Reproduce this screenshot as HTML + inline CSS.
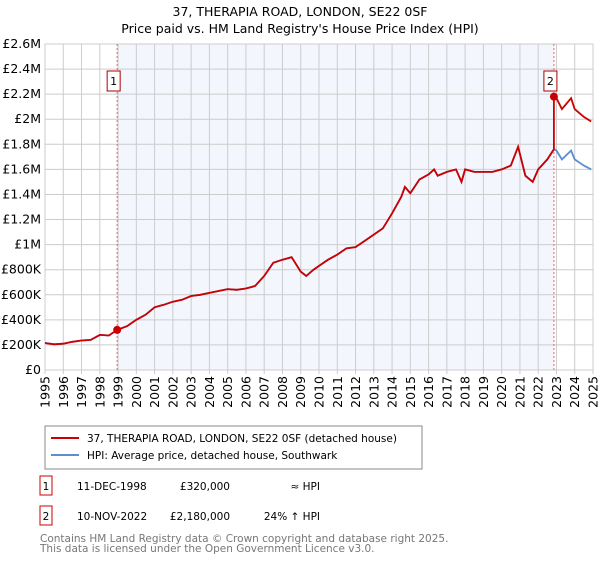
<!DOCTYPE html>
<html><head><meta charset="utf-8"><style>
body{margin:0;background:#fff;font-family:"Liberation Sans","DejaVu Sans",sans-serif;}
svg text{font-family:"DejaVu Sans","Liberation Sans",sans-serif;}
</style></head><body>
<svg id="c" width="600" height="560" xmlns="http://www.w3.org/2000/svg">
<text x="300" y="16" text-anchor="middle" font-size="12.5">37, THERAPIA ROAD, LONDON, SE22 0SF</text>
<text x="300" y="33" text-anchor="middle" font-size="12.5">Price paid vs. HM Land Registry's House Price Index (HPI)</text>
<g id="plot"></g>
<rect x="45" y="426" width="377" height="43" fill="#fff" stroke="#888"/>
<line x1="51" y1="438" x2="79" y2="438" stroke="#cc0000" stroke-width="2"/>
<text x="87" y="442" font-size="10.5">37, THERAPIA ROAD, LONDON, SE22 0SF (detached house)</text>
<line x1="51" y1="455" x2="79" y2="455" stroke="#5b8fd0" stroke-width="2"/>
<text x="87" y="459" font-size="10.5">HPI: Average price, detached house, Southwark</text>
<g font-size="10.5">
<rect x="40" y="476" width="12" height="19" fill="#fff" stroke="#cc0000"/>
<text x="46" y="490" text-anchor="middle">1</text>
<text x="77" y="490">11-DEC-1998</text><text x="230" y="490" text-anchor="end">£320,000</text><text x="320" y="490" text-anchor="end">≈ HPI</text>
<rect x="40" y="506" width="12" height="19" fill="#fff" stroke="#cc0000"/>
<text x="46" y="520" text-anchor="middle">2</text>
<text x="77" y="520">10-NOV-2022</text><text x="230" y="520" text-anchor="end">£2,180,000</text><text x="320" y="520" text-anchor="end">24% ↑ HPI</text>
</g>
<text x="40" y="542" font-size="10.5" fill="#777">Contains HM Land Registry data © Crown copyright and database right 2025.</text>
<text x="40" y="552" font-size="10.5" fill="#777">This data is licensed under the Open Government Licence v3.0.</text>
</svg>
<script>
const hpiYears=[1995,1995.5,1996,1996.5,1997,1997.5,1998,1998.5,1998.95,1999.5,2000,2000.5,2001,2001.5,2002,2002.5,2003,2003.5,2004,2004.5,2005,2005.5,2006,2006.5,2007,2007.5,2008,2008.5,2009,2009.3,2009.7,2010,2010.5,2011,2011.5,2012,2012.5,2013,2013.5,2014,2014.5,2014.7,2015,2015.5,2016,2016.3,2016.5,2017,2017.5,2017.8,2018,2018.5,2019,2019.5,2020,2020.5,2020.9,2021.3,2021.7,2022,2022.5,2022.86,2023,2023.3,2023.8,2024,2024.5,2024.9];
const hpiValues=[215000,205000,210000,225000,235000,240000,280000,275000,320000,350000,400000,440000,500000,520000,545000,560000,590000,600000,615000,630000,645000,640000,650000,670000,750000,855000,880000,900000,785000,750000,800000,830000,880000,920000,970000,980000,1030000,1080000,1130000,1250000,1380000,1460000,1410000,1520000,1560000,1600000,1550000,1580000,1600000,1500000,1600000,1580000,1580000,1580000,1600000,1630000,1780000,1550000,1500000,1600000,1680000,1760000,1750000,1680000,1750000,1680000,1630000,1600000];
const saleYears=[1998.95,2022.86];
const salePrices=[320000,2180000];
const saleLabels=["1","2"];
const yTicks=[0,200000,400000,600000,800000,1000000,1200000,1400000,1600000,1800000,2000000,2200000,2400000,2600000];
const yTickLabels=["£0","£200K","£400K","£600K","£800K","£1M","£1.2M","£1.4M","£1.6M","£1.8M","£2M","£2.2M","£2.4M","£2.6M"];
const xTicks=[1995,1996,1997,1998,1999,2000,2001,2002,2003,2004,2005,2006,2007,2008,2009,2010,2011,2012,2013,2014,2015,2016,2017,2018,2019,2020,2021,2022,2023,2024,2025];
const L=45,R=593,T=44,B=370;
const x=y=>L+(y-1995)/30*(R-L);
const yv=v=>B-v/2600000*(B-T);
const NS="http://www.w3.org/2000/svg";
const g=document.getElementById('plot');
function mk(t,a,p){const e=document.createElementNS(NS,t);for(const k in a)e.setAttribute(k,a[k]);(p||g).appendChild(e);return e;}
const shade=mk('rect',{x:x(saleYears[0]),y:T,width:x(saleYears[1])-x(saleYears[0]),height:B-T,fill:'#f3f6fd'});


yTicks.forEach((v,i)=>{
 const l=mk('line',{x1:L,x2:R,y1:yv(v),y2:yv(v),stroke:'#ccc'});
 
 
 const t=mk('text',{x:L-4,y:yv(v)+4,'text-anchor':'end','font-size':'12.5'});t.textContent=yTickLabels[i];
 
 
});
xTicks.forEach(yr=>{
 const l=mk('line',{x1:x(yr),x2:x(yr),y1:T,y2:B+4,stroke:'#ccc'});
 
 
 const t=mk('text',{x:0,y:0,'text-anchor':'end','font-size':'12.5',transform:`translate(${x(yr)+4.5},${B+6}) rotate(-90)`});t.textContent=yr;
 
 
});
const ax=mk('rect',{x:L,y:T,width:R-L,height:B-T,fill:'none',stroke:'#ccc'});


saleYears.forEach((sy,i)=>{
 const l=mk('line',{x1:x(sy),x2:x(sy),y1:T,y2:B,stroke:'#e66','stroke-dasharray':'2,2'});
 
 
});
const hp=hpiYears.map((yr,i)=>x(yr).toFixed(1)+','+yv(hpiValues[i]).toFixed(1)).join(' ');
const hl=mk('polyline',{points:hp,fill:'none',stroke:'#5b8fd0','stroke-width':1.8});


const pts=[];
const i2=hpiYears.findIndex(v=>v>=saleYears[1]);
const ratio=salePrices[1]/hpiValues[i2];
hpiYears.forEach((yr,i)=>{
 if(yr<saleYears[1]) pts.push([yr,hpiValues[i]]);
 else { if(yr===saleYears[1]) pts.push([yr,hpiValues[i]]); pts.push([yr,hpiValues[i]*ratio]); }
});
const pl=mk('polyline',{points:pts.map(p=>x(p[0]).toFixed(1)+','+yv(p[1]).toFixed(1)).join(' '),fill:'none',stroke:'#cc0000','stroke-width':1.8});


saleYears.forEach((sy,i)=>{
 const c=mk('circle',{cx:x(sy),cy:yv(salePrices[i]),r:4,fill:'#cc0000'});
 
 
 const bx=x(sy)-10;
 const r=mk('rect',{x:bx,y:71,width:13,height:20,fill:'#fff',stroke:'#aa0000'});
 
 
 const t=mk('text',{x:bx+6.5,y:85,'text-anchor':'middle','font-size':'11'});t.textContent=saleLabels[i];
 
 
});
</script>
</body></html>
